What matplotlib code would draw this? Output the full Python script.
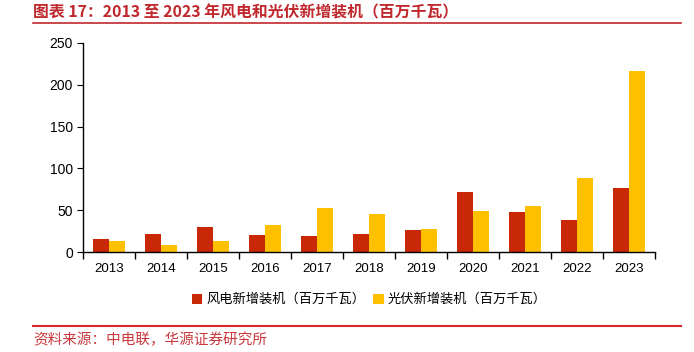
import numpy as np
import matplotlib.pyplot as plt
from matplotlib.lines import Line2D

plt.rcParams['font.family'] = ['Noto Sans CJK SC', 'DejaVu Sans']

years = ['2013', '2014', '2015', '2016', '2017', '2018', '2019', '2020', '2021', '2022', '2023']
wind = [15.5, 21, 30, 20.5, 19.5, 21.5, 26, 72, 48, 38, 76]
solar = [12.7, 8.6, 13.5, 32.5, 53, 45, 27, 48.5, 55, 88, 217]
wind_label = '风电新增装机（百万千瓦）'
solar_label = '光伏新增装机（百万千瓦）'

num_font = ['Liberation Sans', 'Noto Sans CJK SC']

fig = plt.figure(figsize=(6.94, 3.52), dpi=100)
ax = fig.add_axes([0.12, 0.284, 0.824, 0.594])

x = np.arange(len(years))
w = 0.31
ax.bar(x - w / 2, wind, w, color='#C82806', label=wind_label)
ax.bar(x + w / 2, solar, w, color='#FFC000', label=solar_label)

ax.set_xlim(-0.5, len(years) - 0.5)
ax.set_ylim(0, 250)
ax.set_yticks([0, 50, 100, 150, 200, 250])
ax.set_xticks(x)
ax.set_xticklabels(years, family=num_font)
ax.set_yticklabels([str(v) for v in [0, 50, 100, 150, 200, 250]], family=num_font)
ax.set_xticks(np.arange(-0.5, len(years)), minor=True)
ax.tick_params(axis='x', which='major', length=0, pad=8, labelsize=9.5)
ax.tick_params(axis='x', which='minor', length=5, direction='out', width=1)
ax.tick_params(axis='y', length=4, labelsize=10, direction='out')
for s in ['top', 'right']:
    ax.spines[s].set_visible(False)
ax.spines['left'].set_linewidth(1)
ax.spines['bottom'].set_linewidth(1)

ax.legend(loc='upper center', bbox_to_anchor=(0.5, -0.14), ncol=2, frameon=False,
          fontsize=9.5, handlelength=0.8, handleheight=0.8, handletextpad=0.3, columnspacing=0.6)

fig.text(0.048, 0.965, '图表 17：2013 至 2023 年风电和光伏新增装机（百万千瓦）',
         color='#C0282D', fontsize=11.4, fontweight='bold', va='center', ha='left')
fig.add_artist(Line2D([0.048, 0.981], [0.936, 0.936], color='#C0282D', lw=1.2, transform=fig.transFigure))
fig.add_artist(Line2D([0.048, 0.981], [0.074, 0.074], color='#D9282D', lw=1.5, transform=fig.transFigure))
fig.text(0.048, 0.035, '资料来源：中电联，华源证券研究所', color='#C8383D', fontsize=10.5,
         va='center', ha='left')

fig.savefig('out.png', dpi=100)
